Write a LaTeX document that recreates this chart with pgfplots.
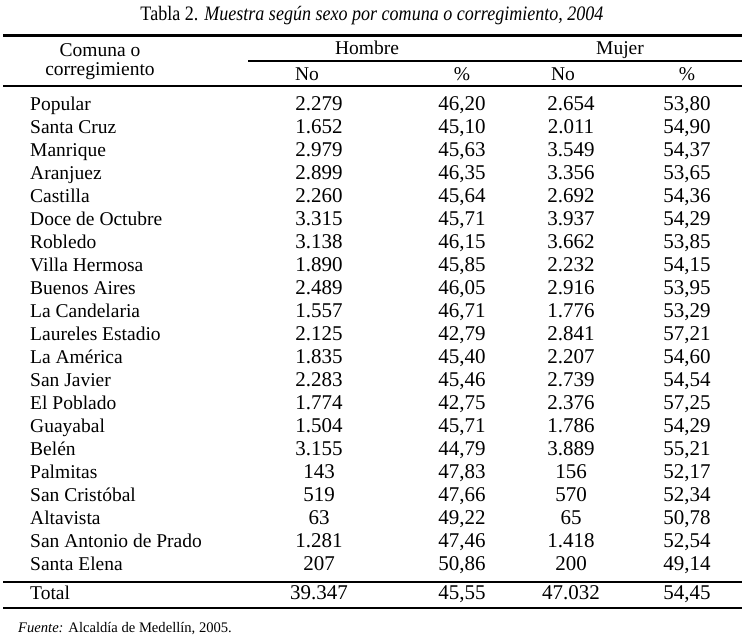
\documentclass[border=0pt]{standalone}
\usepackage{pgfplots}
\pgfplotsset{compat=1.18}
\usepackage{pgfplotstable}
\usepackage{fontspec}
\setmainfont{Liberation Serif}

\pgfplotstableread[col sep=semicolon]{
y;name;hn;hp;mn;mp
110.7;Popular;2.279;46,20;2.654;53,80
133.7;Santa Cruz;1.652;45,10;2.011;54,90
156.7;Manrique;2.979;45,63;3.549;54,37
179.7;Aranjuez;2.899;46,35;3.356;53,65
202.7;Castilla;2.260;45,64;2.692;54,36
225.7;Doce de Octubre;3.315;45,71;3.937;54,29
248.7;Robledo;3.138;46,15;3.662;53,85
271.7;Villa Hermosa;1.890;45,85;2.232;54,15
294.7;Buenos Aires;2.489;46,05;2.916;53,95
317.7;La Candelaria;1.557;46,71;1.776;53,29
340.7;Laureles Estadio;2.125;42,79;2.841;57,21
363.7;La América;1.835;45,40;2.207;54,60
386.7;San Javier;2.283;45,46;2.739;54,54
409.7;El Poblado;1.774;42,75;2.376;57,25
432.7;Guayabal;1.504;45,71;1.786;54,29
455.7;Belén;3.155;44,79;3.889;55,21
478.7;Palmitas;143;47,83;156;52,17
501.7;San Cristóbal;519;47,66;570;52,34
524.7;Altavista;63;49,22;65;50,78
547.7;San Antonio de Prado;1.281;47,46;1.418;52,54
570.7;Santa Elena;207;50,86;200;49,14
599.5;Total;39.347;45,55;47.032;54,45
}\datatable

\newcommand\bodyfont{\fontsize{19.5}{23}\selectfont}
\newcommand\numfont{\fontsize{21}{23}\selectfont}

\begin{document}
\begin{tikzpicture}
\begin{axis}[
  at={(0,0)}, anchor=south west,
  width=746pt, height=639pt, scale only axis,
  xmin=0, xmax=746, ymin=0, ymax=639, y dir=reverse,
  hide axis, clip=false,
  point meta=explicit symbolic,
]
% rules
\addplot[black, line width=2.2pt] coordinates {(3,35.5) (742,35.5)};
\addplot[black, line width=2pt] coordinates {(248,61) (742,61)};
\addplot[black, line width=2pt] coordinates {(3,86) (742,86)};
\addplot[black, line width=2.2pt] coordinates {(3,582) (742,582)};
\addplot[black, line width=2.2pt] coordinates {(3,608) (742,608)};

% names
\addplot[only marks, mark=none, nodes near coords,
  nodes near coords style={anchor=base west, inner sep=0pt, font=\bodyfont}]
  table[x expr=30, y=y, meta=name] \datatable;
% numbers
\addplot[only marks, mark=none, nodes near coords,
  nodes near coords style={anchor=base, inner sep=0pt, font=\numfont}]
  table[x expr=319, y=y, meta=hn] \datatable;
\addplot[only marks, mark=none, nodes near coords,
  nodes near coords style={anchor=base, inner sep=0pt, font=\numfont}]
  table[x expr=462, y=y, meta=hp] \datatable;
\addplot[only marks, mark=none, nodes near coords,
  nodes near coords style={anchor=base, inner sep=0pt, font=\numfont}]
  table[x expr=571, y=y, meta=mn] \datatable;
\addplot[only marks, mark=none, nodes near coords,
  nodes near coords style={anchor=base, inner sep=0pt, font=\numfont}]
  table[x expr=687, y=y, meta=mp] \datatable;

% title and headers
\node[anchor=base, inner sep=0pt, font=\fontsize{20.5}{24}\selectfont] at (axis cs:372,21)
  {\scalebox{0.88}[1]{Tabla 2. \textit{Muestra según sexo por comuna o corregimiento, 2004}}};
\node[anchor=base, inner sep=0pt, font=\bodyfont] at (axis cs:100,56.5) {Comuna o};
\node[anchor=base, inner sep=0pt, font=\bodyfont] at (axis cs:100,75.5) {corregimiento};
\node[anchor=base, inner sep=0pt, font=\bodyfont] at (axis cs:367,55) {Hombre};
\node[anchor=base, inner sep=0pt, font=\bodyfont] at (axis cs:620,55) {Mujer};
\node[anchor=base, inner sep=0pt, font=\bodyfont] at (axis cs:307,81) {No};
\node[anchor=base, inner sep=0pt, font=\bodyfont] at (axis cs:462,81) {\%};
\node[anchor=base, inner sep=0pt, font=\bodyfont] at (axis cs:563,81) {No};
\node[anchor=base, inner sep=0pt, font=\bodyfont] at (axis cs:687,81) {\%};
\node[anchor=base west, inner sep=0pt, font=\fontsize{14.6}{18}\selectfont] at (axis cs:18,632)
  {\textit{Fuente:} Alcaldía de Medellín, 2005.};
\end{axis}
\pgfresetboundingbox
\path (0,0) rectangle (746pt,639pt);
\end{tikzpicture}
\end{document}
